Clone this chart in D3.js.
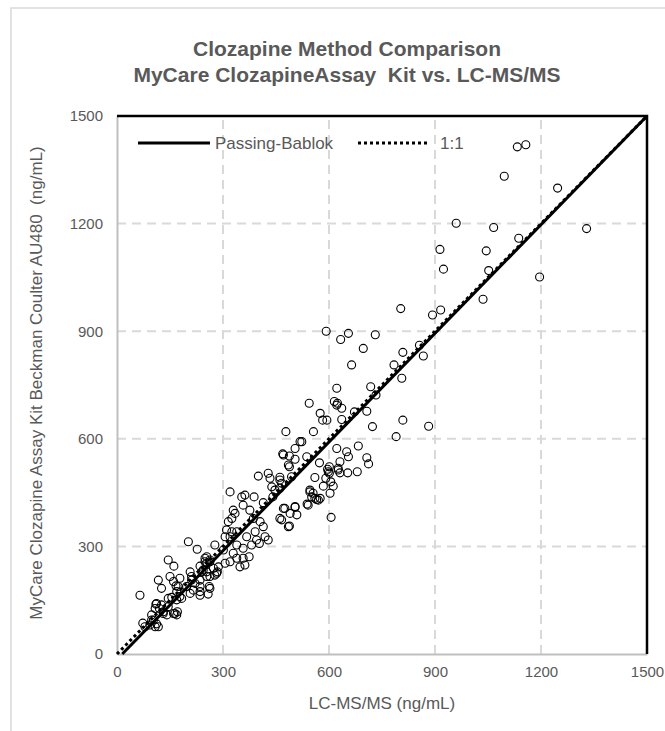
<!DOCTYPE html>
<meta charset="utf-8">
<title>Clozapine Method Comparison</title>
<style>
body { margin: 0; background: #fff; }
text { font-family: "Liberation Sans", Arial, sans-serif; fill: #595959; white-space: pre; }
</style>
<script src="https://d3js.org/d3.v7.min.js"></script>
<div id="chart"></div>
<script>

var width = 665,
    height = 731;

// LC-MS/MS (x) and MyCare AU480 (y), ng/mL
var lcms = [65,73,79,93,98,98,103,108,108,110,112,112,117,117,120,126,126,131,131,141,
  145,145,145,150,155,160,160,161,164,167,169,169,169,171,173,178,178,183,197,202,
  207,207,211,211,216,221,227,235,235,235,235,235,240,244,249,249,254,254,254,254,
  258,261,263,263,263,263,273,277,277,282,284,287,301,306,306,310,315,320,320,320,
  325,325,329,329,334,339,339,339,348,353,357,357,357,362,362,367,374,376,381,386,
  388,391,395,400,403,405,414,414,419,428,428,433,438,441,447,461,461,461,461,466,
  466,469,471,471,475,478,485,485,488,488,488,490,494,504,504,504,504,509,518,523,
  537,538,541,544,546,546,551,555,556,560,560,565,570,573,575,575,582,584,591,592,
  594,596,598,601,601,603,605,606,612,615,622,622,622,624,626,626,631,631,633,636,
  636,650,653,655,655,664,672,680,683,697,707,707,712,718,723,731,733,784,790,803,
  806,809,809,856,867,882,893,914,916,924,960,1036,1045,1052,1066,1096,1133,1137,1157,1196,
  1247,1329];
var mycare = [164,86,76,81,95,109,95,76,127,139,84,141,76,206,127,137,183,113,118,109,
  132,155,262,216,158,113,202,245,113,190,109,151,174,118,188,160,211,155,188,313,
  169,229,206,216,178,197,292,164,174,188,206,245,229,234,257,267,216,229,253,271,
  167,188,183,216,257,262,239,220,304,225,229,243,290,253,327,346,369,257,327,452,
  341,378,281,401,392,267,304,341,243,438,267,295,415,248,443,327,271,401,304,378,
  438,341,318,496,308,369,355,422,327,318,504,490,466,438,457,378,462,485,493,374,
  476,558,406,555,406,620,355,527,357,522,552,392,494,409,411,543,573,388,592,592,
  550,418,415,699,452,457,438,448,620,434,492,431,429,533,434,671,652,468,490,900,
  652,515,508,504,522,448,480,381,468,704,694,573,741,699,513,518,505,536,877,654,
  685,564,505,550,894,806,675,508,580,852,547,677,530,745,634,890,722,806,606,963,
  769,652,841,861,831,635,945,1128,959,1073,1201,989,1124,1069,1189,1332,1414,1159,1420,1051,
  1299,1186];

var ticks = [0, 300, 600, 900, 1200, 1500];
var grid = [300, 600, 900, 1200];

// Passing-Bablok fit, y = slope * x + intercept
var pbSlope = 1.01,
    pbIntercept = -15;

var svg = d3.select("#chart").append("svg")
    .attr("width", width)
    .attr("height", height);

// chart area border (only left and top show in the frame)
svg.append("rect")
    .attr("x", 11).attr("y", 8)
    .attr("width", 700).attr("height", 760)
    .attr("fill", "none")
    .attr("stroke", "#d9d9d9")
    .attr("stroke-width", 1.5);

var x = d3.scaleLinear().domain([0, 1500]).range([117, 647]);
var y = d3.scaleLinear().domain([0, 1500]).range([654, 116]);

// gridlines
svg.selectAll(".gx").data(grid).enter().append("line")
    .attr("x1", d => x(d)).attr("x2", d => x(d))
    .attr("y1", y(0)).attr("y2", y(1500))
    .attr("stroke", "#d9d9d9").attr("stroke-width", 2)
    .attr("stroke-dasharray", "9,6");
svg.selectAll(".gy").data(grid).enter().append("line")
    .attr("y1", d => y(d)).attr("y2", d => y(d))
    .attr("x1", x(0)).attr("x2", x(1500))
    .attr("stroke", "#d9d9d9").attr("stroke-width", 2)
    .attr("stroke-dasharray", "9,6");

// axes
var fmt = d3.format("d");
var xAxis = svg.append("g")
    .attr("transform", "translate(0," + y(0) + ")")
    .call(d3.axisBottom(x).tickValues(ticks).tickFormat(fmt).tickSize(0).tickPadding(12));
var yAxis = svg.append("g")
    .attr("transform", "translate(" + x(0) + ",0)")
    .call(d3.axisLeft(y).tickValues(ticks).tickFormat(fmt).tickSize(0).tickPadding(14));

[xAxis, yAxis].forEach(function (g) {
  g.select(".domain").attr("stroke", "#bfbfbf").attr("stroke-width", 2);
  g.selectAll("text")
      .attr("fill", "#595959")
      .style("font-size", "15px")
      .style("font-family", "Liberation Sans, Arial, sans-serif");
});

// black frame on top and right
svg.append("path")
    .attr("d", "M" + x(0) + "," + y(1500) + "H" + x(1500) + "V" + y(0))
    .attr("fill", "none")
    .attr("stroke", "#000")
    .attr("stroke-width", 2.5);

// points
svg.append("g").selectAll("circle")
    .data(lcms)
  .enter().append("circle")
    .attr("cx", d => x(d))
    .attr("cy", (d, i) => y(mycare[i]))
    .attr("r", 4)
    .attr("fill", "none")
    .attr("stroke", "#000")
    .attr("stroke-width", 1.1);

// 1:1 line
svg.append("line")
    .attr("x1", x(0)).attr("y1", y(0))
    .attr("x2", x(1500)).attr("y2", y(1500))
    .attr("stroke", "#000").attr("stroke-width", 3)
    .attr("stroke-dasharray", "3,3");

// Passing-Bablok line
var x0 = -pbIntercept / pbSlope,
    x1 = Math.min(1500, (1500 - pbIntercept) / pbSlope);
svg.append("line")
    .attr("x1", x(x0)).attr("y1", y(0))
    .attr("x2", x(x1)).attr("y2", y(pbSlope * x1 + pbIntercept))
    .attr("stroke", "#000").attr("stroke-width", 3);

// legend
var legY = 143;
svg.append("line")
    .attr("x1", 138).attr("x2", 210)
    .attr("y1", legY).attr("y2", legY)
    .attr("stroke", "#000").attr("stroke-width", 3);
svg.append("text")
    .attr("x", 215).attr("y", legY + 6)
    .style("font-size", "17px")
    .text("Passing-Bablok");
svg.append("line")
    .attr("x1", 358).attr("x2", 428)
    .attr("y1", legY).attr("y2", legY)
    .attr("stroke", "#000").attr("stroke-width", 3)
    .attr("stroke-dasharray", "3,3");
svg.append("text")
    .attr("x", 440).attr("y", legY + 6)
    .style("font-size", "17px")
    .text("1:1");

// titles
svg.append("text")
    .attr("x", 347).attr("y", 56)
    .attr("text-anchor", "middle")
    .style("font-size", "21px")
    .style("font-weight", "bold")
    .text("Clozapine Method Comparison");
svg.append("text")
    .attr("x", 347).attr("y", 82)
    .attr("text-anchor", "middle")
    .style("font-size", "21px")
    .style("font-weight", "bold")
    .text("MyCare ClozapineAssay  Kit vs. LC-MS/MS");

svg.append("text")
    .attr("x", 382).attr("y", 709)
    .attr("text-anchor", "middle")
    .style("font-size", "17px")
    .text("LC-MS/MS (ng/mL)");

svg.append("text")
    .attr("transform", "translate(42," + ((y(0) + y(1500)) / 2 - 2) + ") rotate(-90)")
    .attr("text-anchor", "middle")
    .style("font-size", "17px")
    .text("MyCare Clozapine Assay Kit Beckman Coulter AU480  (ng/mL)");

</script>
